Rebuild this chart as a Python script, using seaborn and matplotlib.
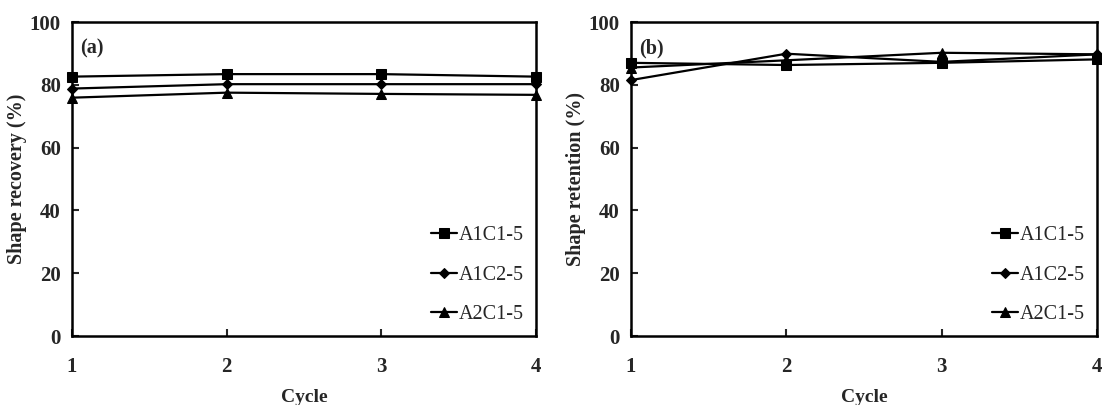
import numpy as np
import pandas as pd
import matplotlib
matplotlib.use("Agg")
import matplotlib.pyplot as plt
import seaborn as sns

cycles = [1, 2, 3, 4]
series_names = ['A1C1-5', 'A1C2-5', 'A2C1-5']
markers = ['s', 'D', '^']
marker_sizes = [7, 5, 7]

# shape recovery (%), panel a
recovery_a1c1 = [82.6, 83.4, 83.4, 82.6]
recovery_a1c2 = [78.8, 80.2, 80.2, 80.2]
recovery_a2c1 = [75.9, 77.5, 77.1, 76.8]

# shape retention (%), panel b
retention_a1c1 = [87.0, 86.3, 87.0, 88.1]
retention_a1c2 = [81.5, 89.9, 87.3, 89.7]
retention_a2c1 = [85.5, 87.8, 90.2, 89.7]

sns.set_style("ticks")
plt.rcParams['font.family'] = ['Liberation Serif', 'DejaVu Serif']

fig = plt.figure(figsize=(11.02, 4.05), dpi=100)
ax_a = fig.add_axes([72 / 1102, 1 - 336 / 405, 464 / 1102, 314 / 405])
ax_b = fig.add_axes([631 / 1102, 1 - 336 / 405, 466 / 1102, 314 / 405])

panels = [
    (ax_a, [recovery_a1c1, recovery_a1c2, recovery_a2c1], 'Shape recovery (%)', '(a)'),
    (ax_b, [retention_a1c1, retention_a1c2, retention_a2c1], 'Shape retention (%)', '(b)'),
]

for ax, values, ylabel, tag in panels:
    for name, vals, mk, ms in zip(series_names, values, markers, marker_sizes):
        df = pd.DataFrame({'Cycle': cycles, 'value': vals})
        sns.lineplot(data=df, x='Cycle', y='value', ax=ax, color='black',
                     marker=mk, markersize=ms, markeredgecolor='black',
                     linewidth=1.6, label=name, clip_on=False)
    ax.set_xlim(1, 4)
    ax.set_ylim(0, 100)
    ax.set_xticks(cycles)
    ax.set_yticks([0, 20, 40, 60, 80, 100])
    ax.tick_params(direction='in', length=5, width=1.5, labelsize=15)
    ax.tick_params(axis='x', pad=15)
    ax.tick_params(axis='y', pad=8)
    for lab in ax.get_xticklabels() + ax.get_yticklabels():
        lab.set_fontweight('bold')
    for sp in ax.spines.values():
        sp.set_visible(True)
        sp.set_linewidth(1.8)
        sp.set_color('black')
    ax.set_xlabel('Cycle', fontsize=14, fontweight='bold', labelpad=9)
    ax.set_ylabel(ylabel, fontsize=14.5, fontweight='bold', labelpad=2)
    ax.text(0.018, 0.915, tag, transform=ax.transAxes, fontsize=14.5,
            fontweight='bold', va='center', ha='left')
    leg = ax.legend(loc='lower right', frameon=False, fontsize=14.5,
                    handlelength=1.3, handletextpad=0.1, labelspacing=1.0,
                    borderaxespad=0.2)

fig.savefig('out.png', dpi=100)
